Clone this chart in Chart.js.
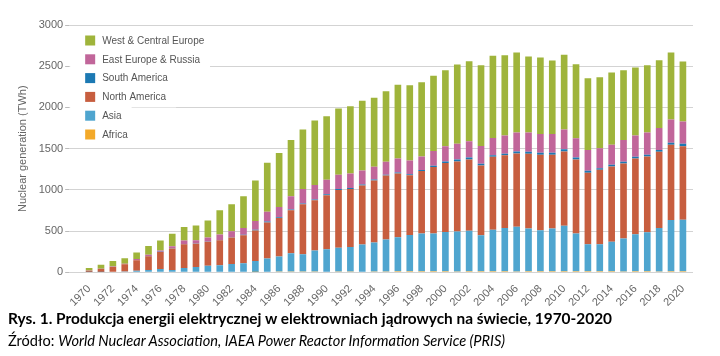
<!DOCTYPE html>
<html>
<head>
<meta charset="utf-8">
<script src="https://cdn.jsdelivr.net/npm/chart.js@4/dist/chart.umd.min.js"></script>
<style>
  html, body { margin: 0; padding: 0; background: #fff; }
  body { width: 720px; height: 356px; position: relative; overflow: hidden; }
  #wrap { position: absolute; left: 0; top: 0; width: 720px; height: 311px; }
  #title { position: absolute; left: 8px; top: 309px; font-family: Lato, "Liberation Sans", sans-serif; font-weight: bold; font-size: 15.4px; color: #000; white-space: nowrap; }
  #source { position: absolute; left: 8px; top: 332px; font-family: Lato, "Liberation Sans", sans-serif; font-size: 14.6px; color: #000; white-space: nowrap; }
</style>
</head>
<body>
<div id="wrap"><canvas id="c"></canvas></div>
<div id="title">Rys. 1. Produkcja energii elektrycznej w elektrowniach jądrowych na świecie, 1970-2020</div>
<div id="source">Źródło: <i>World Nuclear Association, IAEA Power Reactor Information Service (PRIS)</i></div>
<script>
const years = [1970,1971,1972,1973,1974,1975,1976,1977,1978,1979,1980,1981,1982,1983,1984,1985,1986,1987,1988,1989,1990,1991,1992,1993,1994,1995,1996,1997,1998,1999,2000,2001,2002,2003,2004,2005,2006,2007,2008,2009,2010,2011,2012,2013,2014,2015,2016,2017,2018,2019,2020];
const tickYears = [1970,1972,1974,1976,1978,1980,1982,1984,1986,1988,1990,1992,1994,1996,1998,2000,2002,2004,2006,2008,2010,2012,2014,2016,2018,2020];
const yTicks = [0,500,1000,1500,2000,2500,3000];

const africa = [0,0,0,0,0,0,0,0,0,0,0,0,0,0,5,8,9,9,10,10,8,9,10,8,9,11,12,12,13,13,13,11,12,13,14,12,10,12,12,12,12,13,12,14,15,11,15,15,11,13,12];
const asia = [3,5,8,10,20,28,41,30,53,65,81,85,102,110,133,159,182,223,210,254,272,288,299,329,353,387,415,441,457,457,477,485,492,438,502,525,543,521,500,521,553,459,329,327,355,400,448,473,526,621,626];
const northAmerica = [17,36,57,88,126,167,207,259,288,281,289,305,321,341,370,439,468,520,605,610,655,703,703,716,752,777,772,724,758,808,835,850,866,846,886,882,890,906,915,894,902,898,866,903,915,910,919,918,926,915,890];
const southAmerica = [0,0,0,0,2,2,2,2,2,3,3,3,4,5,10,10,10,10,10,10,12,10,12,12,12,10,12,14,14,16,20,24,24,20,17,20,24,24,24,24,25,24,25,20,20,20,20,21,21,24,33];
const eastEurope = [2,4,5,7,15,18,14,26,43,41,50,66,73,81,104,120,124,161,177,177,175,173,175,171,154,156,171,167,164,178,185,191,197,215,211,220,228,232,228,228,240,232,252,240,244,265,257,268,268,281,268];
const westEurope = [30,48,68,66,77,106,122,150,163,179,207,293,325,386,492,593,654,683,720,780,772,805,817,845,838,856,894,912,899,912,921,961,968,980,996,975,972,923,927,890,906,898,870,862,874,845,825,817,821,813,728];

const seriesLabels = ['Africa','Asia','North America','South America','East Europe & Russia','West & Central Europe'];
const seriesColors = ['#f3a929','#4fa5cf','#c75e3f','#1c79b3','#c1669a','#9fb43b'];
const seriesData = [africa, asia, northAmerica, southAmerica, eastEurope, westEurope];

const FONT = '"Liberation Sans", Arial, sans-serif';

const insideLegend = {
  id: 'insideLegend',
  afterDraw(chart) {
    const ctx = chart.ctx;
    const ds = chart.data.datasets.slice().reverse();
    const left = chart.chartArea.left;
    const x0 = left + 16;
    const y0 = chart.chartArea.top + 15.5;
    const step = 18.8;
    ctx.save();
    ctx.font = '10px ' + FONT;
    ctx.textBaseline = 'middle';
    ds.forEach((d, i) => {
      const cy = y0 + i * step;
      const tw = ctx.measureText(d.label).width;
      ctx.fillStyle = '#ffffff';
      ctx.fillRect(left + 1, cy - 10, (x0 + 17 + tw + 10) - (left + 1), 20.5);
    });
    ds.forEach((d, i) => {
      const cy = y0 + i * step;
      ctx.fillStyle = d.backgroundColor;
      ctx.fillRect(x0, cy - 5, 10, 10);
      ctx.fillStyle = '#555';
      ctx.fillText(d.label, x0 + 17, cy + 0.5);
    });
    ctx.restore();
  }
};

new Chart(document.getElementById('c'), {
  type: 'bar',
  data: {
    labels: years,
    datasets: seriesLabels.map((l, i) => ({
      label: l,
      data: seriesData[i],
      backgroundColor: seriesColors[i],
      borderWidth: 0
    }))
  },
  options: {
    responsive: true,
    maintainAspectRatio: false,
    animation: false,
    layout: { padding: { top: 25, right: 27, left: 16.5, bottom: 0 } },
    plugins: { legend: { display: false }, tooltip: { enabled: false } },
    datasets: { bar: { categoryPercentage: 1.0, barPercentage: 0.56 } },
    scales: {
      x: {
        type: 'linear',
        stacked: true,
        offset: false,
        min: 1968.32,
        max: 2020.85,
        afterBuildTicks: s => { s.ticks = tickYears.map(v => ({ value: v })); },
        grid: { display: false },
        border: { display: false },
        ticks: {
          autoSkip: false,
          minRotation: 45,
          maxRotation: 45,
          padding: 2,
          color: '#666',
          font: { family: FONT, size: 11 },
          callback: v => String(v)
        }
      },
      y: {
        stacked: true,
        min: 0,
        max: 3000,
        afterBuildTicks: s => { s.ticks = yTicks.map(v => ({ value: v })); },
        border: { display: false },
        grid: { color: '#d3d3d3', lineWidth: 1, drawTicks: true, tickLength: 4, tickColor: '#bbb' },
        ticks: { color: '#666', padding: 2, font: { family: FONT, size: 11 }, callback: v => String(v) },
        title: { display: true, text: 'Nuclear generation (TWh)', color: '#666', font: { family: FONT, size: 11 }, padding: { top: 0, bottom: 7 } }
      }
    }
  },
  plugins: [insideLegend]
});
</script>
</body>
</html>
